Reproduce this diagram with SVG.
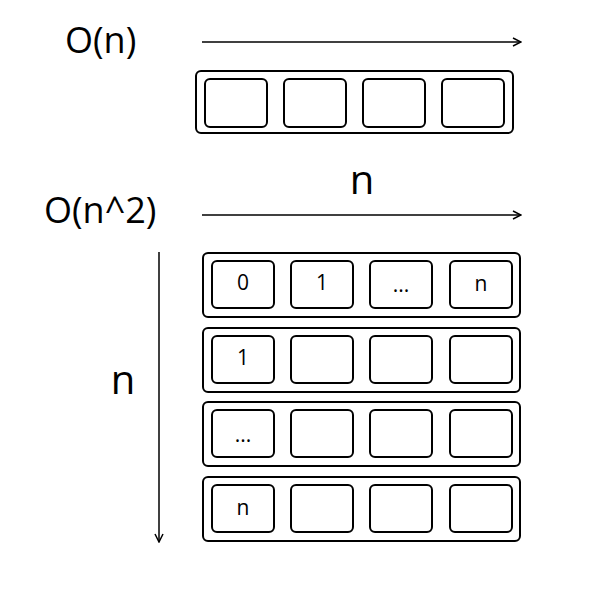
<svg xmlns="http://www.w3.org/2000/svg" width="602" height="590" viewBox="0 0 602 590">
<style>
.outer{fill:#fff;stroke:#000;stroke-width:2}
.cell{fill:#fff;stroke:#000;stroke-width:2}
.big{font-family:"Open Sans","Noto Sans",sans-serif;font-size:36px;fill:#000}
.dim{font-family:"Open Sans","Noto Sans",sans-serif;font-size:40px;fill:#000;text-anchor:middle}
.small{font-family:"Open Sans","Noto Sans",sans-serif;font-size:21px;fill:#000;text-anchor:middle}
.conn{stroke:#000;stroke-width:1.5;fill:none}
</style>
<defs>
<marker id="ah" viewBox="0 0 10 10" refX="9" refY="5" markerWidth="10" markerHeight="10" markerUnits="userSpaceOnUse" orient="auto">
<path d="M1,1 L9,5 L1,9" fill="none" stroke="#000" stroke-width="1.5"/>
</marker>
</defs>
<rect width="602" height="590" fill="#fff"/>
<g id="labels">
<text class="big" x="65" y="53">O(n)</text>
<text class="big" x="44" y="223">O(n^2)</text>
<text class="dim" x="362" y="194">n</text>
<text class="dim" x="123" y="394">n</text>
</g>
<g id="connectors">
<line class="conn" x1="202" y1="42" x2="521" y2="42" marker-end="url(#ah)"/>
<line class="conn" x1="202" y1="215" x2="521" y2="215" marker-end="url(#ah)"/>
<line class="conn" x1="159" y1="252" x2="159" y2="542" marker-end="url(#ah)"/>
</g>
<g id="array1d">
<rect class="outer" x="196" y="71" width="317" height="62" rx="5"/>
<rect class="cell" x="205" y="79" width="62" height="48" rx="5"/>
<rect class="cell" x="284" y="79" width="62" height="48" rx="5"/>
<rect class="cell" x="363" y="79" width="62" height="48" rx="5"/>
<rect class="cell" x="442" y="79" width="62" height="48" rx="5"/>
</g>
<g id="row1">
<rect class="outer" x="203" y="253" width="317" height="64" rx="5"/>
<rect class="cell" x="212" y="261" width="62" height="47" rx="5"/>
<rect class="cell" x="291" y="261" width="62" height="47" rx="5"/>
<rect class="cell" x="370" y="261" width="62" height="47" rx="5"/>
<rect class="cell" x="450" y="261" width="62" height="47" rx="5"/>
<text class="small" x="243" y="290">0</text>
<text class="small" x="322" y="290">1</text>
<text class="small" x="401" y="292">...</text>
<text class="small" x="481" y="291">n</text>
</g>
<g id="row2">
<rect class="outer" x="203" y="328" width="317" height="64" rx="5"/>
<rect class="cell" x="212" y="336" width="62" height="47" rx="5"/>
<rect class="cell" x="291" y="336" width="62" height="47" rx="5"/>
<rect class="cell" x="370" y="336" width="62" height="47" rx="5"/>
<rect class="cell" x="450" y="336" width="62" height="47" rx="5"/>
<text class="small" x="243" y="365">1</text>
</g>
<g id="row3">
<rect class="outer" x="203" y="402" width="317" height="64" rx="5"/>
<rect class="cell" x="212" y="410" width="62" height="47" rx="5"/>
<rect class="cell" x="291" y="410" width="62" height="47" rx="5"/>
<rect class="cell" x="370" y="410" width="62" height="47" rx="5"/>
<rect class="cell" x="450" y="410" width="62" height="47" rx="5"/>
<text class="small" x="243" y="442">...</text>
</g>
<g id="row4">
<rect class="outer" x="203" y="477" width="317" height="64" rx="5"/>
<rect class="cell" x="212" y="485" width="62" height="47" rx="5"/>
<rect class="cell" x="291" y="485" width="62" height="47" rx="5"/>
<rect class="cell" x="370" y="485" width="62" height="47" rx="5"/>
<rect class="cell" x="450" y="485" width="62" height="47" rx="5"/>
<text class="small" x="243" y="515">n</text>
</g>
</svg>
